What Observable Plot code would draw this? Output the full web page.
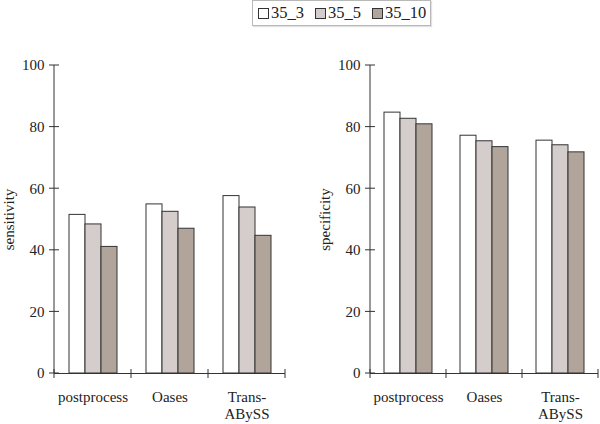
<!DOCTYPE html>
<html><head><meta charset="utf-8">
<script src="https://cdn.jsdelivr.net/npm/d3@7"></script>
<script src="https://cdn.jsdelivr.net/npm/@observablehq/plot@0.6"></script>
<style>
body{margin:0;background:#fff;}
#wrap{position:relative;width:600px;height:424px;font-family:"Liberation Serif",serif;color:#222;}
#legend{position:absolute;left:252px;top:0;width:179px;height:26px;border:1px solid #b8b8b8;box-shadow:1px 1px 1px #e0e0e0;display:flex;align-items:center;justify-content:flex-start;padding-left:5px;gap:11px;font-size:16.5px;box-sizing:border-box;}
#legend .it{display:flex;align-items:center;gap:2px;}
#legend .sw{display:inline-block;width:9px;height:9px;border:1px solid #333;}
#left{position:absolute;left:0;top:30px;}
#right{position:absolute;left:300px;top:30px;}
</style>
</head><body>
<div id="wrap"><div id="legend"></div><div id="left"></div><div id="right"></div></div>
<script>
const methods = ["postprocess", "Oases", "Trans-ABySS"];
const series = ["35_3", "35_5", "35_10"];
const sensitivity = [[51.5, 48.4, 41.1], [54.9, 52.5, 47.0], [57.6, 53.9, 44.7]];
const specificity = [[84.7, 82.7, 80.9], [77.2, 75.4, 73.5], [75.6, 74.1, 71.8]];
const yTicks = [0, 20, 40, 60, 80, 100];
const colors = ["#ffffff", "#d5cdcb", "#b1a59b"];

const legend = document.getElementById("legend");
series.forEach((s, i) => {
  const it = document.createElement("span"); it.className = "it";
  const sw = document.createElement("span"); sw.className = "sw"; sw.style.background = colors[i];
  it.appendChild(sw); it.appendChild(document.createTextNode(s));
  legend.appendChild(it);
});

function rowsOf(vals) {
  const rows = [];
  methods.forEach((m, i) => series.forEach((s, j) => rows.push({method: m, series: s, value: vals[i][j]})));
  return rows;
}

function chart(vals, label, marginLeft, marginRight, labelOffset) {
  const plot = Plot.plot({
    width: 300, height: 394, marginTop: 35, marginBottom: 51, marginLeft, marginRight,
    style: {fontFamily: "Liberation Serif", fontSize: "15px", color: "#222", background: "transparent"},
    fx: {domain: methods, padding: 0, label: null},
    x: {domain: series, paddingInner: 0, paddingOuter: 0.77, axis: null},
    y: {domain: [0, 100]},
    color: {domain: series, range: colors},
    marks: [
      Plot.barY(rowsOf(vals), {fx: "method", x: "series", y: "value", fill: "series", stroke: "#333", strokeWidth: 1}),
      Plot.ruleY([0], {stroke: "#333"}),
      Plot.axisY({ticks: yTicks, tickSize: 0, tickPadding: 10, label, labelAnchor: "center", labelArrow: "none", labelOffset}),
      Plot.axisFx({anchor: "bottom", tickSize: 0, tickPadding: 17, label: null, lineHeight: 1.1,
        tickFormat: d => d === "Trans-ABySS" ? "Trans-\nABySS" : d})
    ]
  });
  const fx = plot.scale("fx"), y = plot.scale("y");
  const svg = d3.select(plot);
  const bw = fx.bandwidth;
  const xs = methods.map(m => fx.apply(m));
  xs.push(xs[xs.length - 1] + bw);
  const g = svg.append("g").attr("stroke", "#333").attr("stroke-width", 1);
  g.append("line").attr("x1", xs[0]).attr("x2", xs[0]).attr("y1", y.apply(0)).attr("y2", y.apply(100));
  yTicks.forEach(t => g.append("line").attr("x1", xs[0] - 5).attr("x2", xs[0] + 5).attr("y1", y.apply(t)).attr("y2", y.apply(t)));
  xs.forEach(x => g.append("line").attr("x1", x).attr("x2", x).attr("y1", y.apply(0) - 4).attr("y2", y.apply(0) + 5));
  return plot;
}

document.getElementById("left").appendChild(chart(sensitivity, "sensitivity", 54, 15, 51));
document.getElementById("right").appendChild(chart(specificity, "specificity", 69, 1, 51));
</script>
</body></html>
